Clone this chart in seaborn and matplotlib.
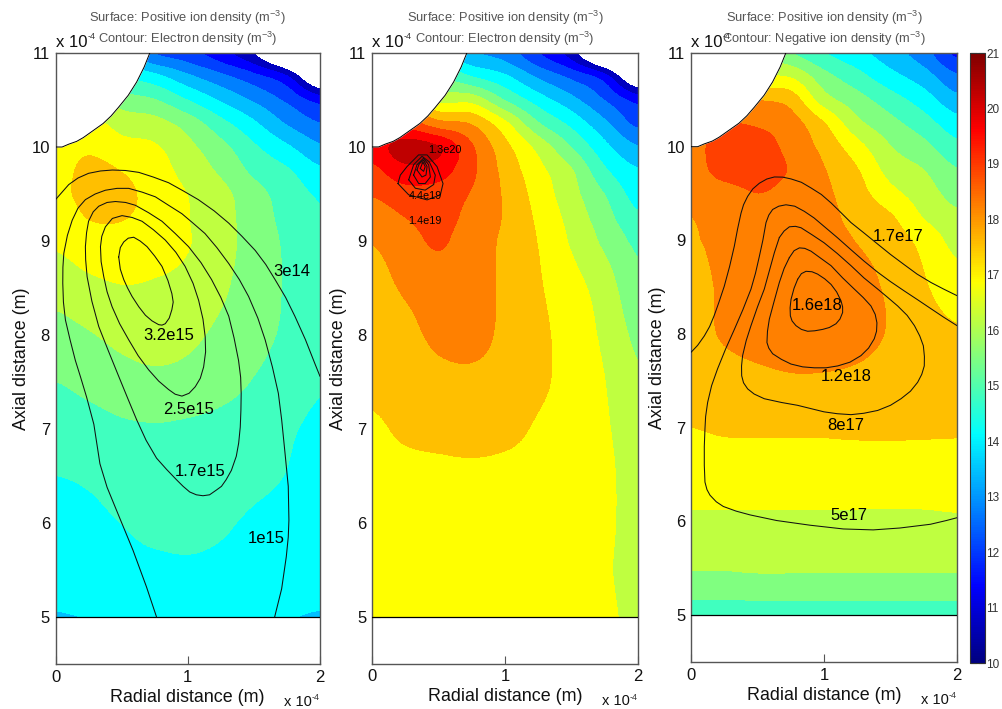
import numpy as np
import seaborn as sns
import matplotlib
matplotlib.use("Agg")
import matplotlib.pyplot as plt
from matplotlib.cm import ScalarMappable
from matplotlib.colors import BoundaryNorm, ListedColormap, Normalize
from matplotlib.patches import Rectangle

# grid of the surface plots, radial and axial distance (x 1e-4 m)
grid_r = [0, 0.25, 0.5, 0.75, 1, 1.25, 1.5, 1.75, 2]
top_z = [11, 10.75, 10.5, 10.25, 10, 9.75, 9.5, 9.25, 9]
low_z = [9.5, 9, 8.5, 8, 7.5, 7, 6.5, 6, 5.5, 5]

# log10 of positive ion density, one row per top_z value, the bands are tighter up there
top_a = [
    [14.0, 13.7, 13.3, 12.4, 12.0, 11.3, 10.34, 8.5, 6.5],
    [15.5, 15.0, 14.5, 14.0, 13.25, 12.6, 11.95, 11.1, 9.0],
    [16.6, 16.3, 15.5, 15.2, 14.47, 13.7, 13.0, 12.27, 11.45],
    [16.9, 16.8, 16.28, 16.1, 15.55, 14.7, 13.9, 13.03, 12.44],
    [16.9, 17.1, 16.75, 16.6, 16.02, 15.36, 14.57, 13.89, 13.2],
    [16.95, 17.4, 17.2, 16.85, 16.27, 15.72, 15.0, 14.55, 13.9],
    [17.05, 17.4, 17.35, 17.0, 16.52, 16.05, 15.4, 14.85, 14.37],
    [16.85, 17.25, 17.25, 17.0, 16.55, 16.1, 15.5, 14.95, 14.55],
    [16.65, 16.95, 17.05, 16.9, 16.58, 16.1, 15.55, 15.05, 14.75],
]
top_b = [
    [14.5, 14.3, 14.0, 13.2, 12.8, 11.8, 10.7, 8.6, 7.0],
    [16.5, 16.0, 15.3, 14.5, 13.92, 13.0, 12.25, 11.35, 9.2],
    [18.0, 17.8, 16.4, 16.3, 15.16, 14.16, 13.33, 12.41, 11.5],
    [19.0, 19.0, 18.2, 17.87, 16.73, 15.25, 14.3, 13.26, 12.25],
    [19.6, 20.3, 20.0, 18.7, 17.45, 16.33, 15.17, 14.0, 13.15],
    [19.1, 19.75, 19.6, 18.75, 17.7, 16.75, 15.92, 14.6, 13.85],
    [18.65, 19.0, 19.0, 18.55, 17.82, 16.95, 16.1, 15.16, 14.2],
    [18.25, 18.6, 18.9, 18.35, 17.85, 17.1, 16.3, 15.45, 14.6],
    [17.95, 18.3, 18.7, 18.2, 17.8, 17.2, 16.45, 15.7, 15.0],
]
top_c = [
    [16.0, 16.0, 15.9, 15.2, 14.5, 14.0, 13.4, 12.7, 11.55],
    [16.3, 16.5, 16.5, 16.43, 15.4, 14.7, 14.0, 13.4, 12.5],
    [18.3, 18.4, 17.9, 17.6, 16.15, 15.43, 14.77, 14.12, 13.3],
    [18.4, 18.6, 18.5, 18.2, 17.25, 16.03, 15.37, 14.77, 14.05],
    [18.4, 18.85, 18.85, 18.4, 17.7, 16.78, 15.87, 15.35, 14.65],
    [18.3, 18.85, 18.85, 18.55, 17.95, 17.27, 16.28, 15.85, 15.2],
    [18.15, 18.35, 18.6, 18.4, 18.05, 17.5, 16.75, 16.18, 15.6],
    [17.91, 18.2, 18.3, 18.3, 18.1, 17.7, 17.3, 16.5, 15.98],
    [17.85, 18.1, 18.25, 18.3, 18.1, 17.88, 17.55, 17.0, 16.3],
]

# same, one row per low_z value
low_a = [
    [17.05, 17.4, 17.35, 17.0, 16.52, 16.05, 15.4, 14.85, 14.37],
    [16.65, 16.95, 17.05, 16.9, 16.58, 16.1, 15.55, 15.05, 14.75],
    [16.1, 16.35, 16.5, 16.45, 16.3, 15.95, 15.5, 15.1, 14.95],
    [15.6, 15.8, 16.05, 16.2, 16.0, 15.7, 15.4, 15.05, 14.9],
    [15.16, 15.35, 15.55, 15.65, 15.6, 15.4, 15.12, 14.8, 14.55],
    [14.8, 14.9, 15.05, 15.1, 15.05, 14.95, 14.8, 14.55, 14.35],
    [14.47, 14.55, 14.7, 14.8, 14.8, 14.72, 14.6, 14.45, 14.25],
    [14.25, 14.35, 14.48, 14.6, 14.62, 14.53, 14.4, 14.3, 14.15],
    [14.2, 14.25, 14.3, 14.35, 14.38, 14.35, 14.3, 14.2, 14.1],
    [13.75, 13.8, 13.85, 14.0, 14.0, 14.0, 13.85, 13.8, 13.75],
]
low_b = [
    [18.65, 19.0, 19.0, 18.55, 17.82, 16.95, 16.1, 15.16, 14.2],
    [17.95, 18.3, 18.7, 18.2, 17.8, 17.2, 16.45, 15.7, 15.0],
    [17.7, 17.98, 18.2, 18.15, 17.8, 17.3, 16.8, 16.2, 15.35],
    [17.55, 17.75, 18.02, 18.05, 17.8, 17.38, 16.95, 16.4, 15.7],
    [17.42, 17.6, 17.75, 17.8, 17.7, 17.35, 17.0, 16.55, 15.95],
    [17.1, 17.35, 17.48, 17.55, 17.42, 17.15, 16.95, 16.62, 16.15],
    [16.95, 17.0, 17.02, 17.05, 17.03, 17.0, 16.9, 16.7, 16.2],
    [16.9, 16.92, 16.95, 16.95, 16.95, 16.9, 16.85, 16.7, 16.2],
    [16.85, 16.88, 16.9, 16.9, 16.9, 16.88, 16.8, 16.65, 16.15],
    [16.8, 16.85, 16.85, 16.85, 16.85, 16.85, 16.8, 16.7, 16.3],
]
low_c = [
    [18.15, 18.35, 18.6, 18.4, 18.05, 17.5, 16.75, 16.18, 15.6],
    [17.85, 18.1, 18.25, 18.3, 18.1, 17.88, 17.55, 17.0, 16.3],
    [17.72, 18.0, 18.2, 18.3, 18.25, 18.1, 17.8, 17.3, 16.85],
    [17.6, 18.0, 18.25, 18.35, 18.3, 18.15, 17.85, 17.5, 17.3],
    [17.42, 17.55, 17.7, 17.82, 17.82, 17.75, 17.6, 17.5, 17.5],
    [17.22, 17.3, 17.32, 17.33, 17.33, 17.35, 17.35, 17.32, 17.3],
    [16.85, 16.85, 16.87, 16.87, 16.87, 16.87, 16.85, 16.87, 16.9],
    [16.42, 16.42, 16.42, 16.42, 16.42, 16.42, 16.42, 16.42, 16.45],
    [15.9, 15.9, 15.95, 15.95, 15.95, 15.95, 15.95, 15.95, 15.95],
    [14.9, 14.9, 14.9, 14.9, 14.9, 14.9, 14.9, 14.9, 14.9],
]

# electrode outline
needle_r = [0, 0.05, 0.1, 0.16, 0.21, 0.26, 0.31, 0.36, 0.42, 0.475, 0.55, 0.613, 0.67, 0.713]
needle_z = [10, 10.0, 10.03, 10.06, 10.1, 10.15, 10.2, 10.25, 10.33, 10.42, 10.55, 10.69, 10.85, 11]

# panel 1 electron density contours, (r, z)
a_3e14 = [(0, 9.44), (0.05, 9.52), (0.1, 9.6), (0.17, 9.67), (0.25, 9.72), (0.34, 9.745), (0.43, 9.755), (0.53, 9.75),
          (0.63, 9.73), (0.74, 9.68), (0.855, 9.62), (0.97, 9.53), (1.08, 9.44), (1.2, 9.32), (1.31, 9.19), (1.41, 9.05),
          (1.51, 8.9), (1.59, 8.75), (1.66, 8.59), (1.74, 8.4), (1.81, 8.2), (1.89, 7.95), (1.96, 7.7), (2.0, 7.56)]
a_1e15 = [(0.764, 5.0), (0.688, 5.32), (0.586, 5.71), (0.46, 6.14), (0.39, 6.38), (0.336, 6.63), (0.29, 7.05), (0.235, 7.34),
          (0.19, 7.55), (0.15, 7.73), (0.11, 7.95), (0.075, 8.16), (0.06, 8.35), (0.055, 8.55), (0.056, 8.72), (0.063, 8.87),
          (0.09, 9.06), (0.126, 9.22), (0.17, 9.35), (0.226, 9.44), (0.3, 9.5), (0.377, 9.54), (0.465, 9.56), (0.553, 9.56),
          (0.655, 9.52), (0.755, 9.47), (0.855, 9.38), (0.956, 9.29), (1.04, 9.19), (1.13, 9.08), (1.22, 8.93), (1.31, 8.76),
          (1.39, 8.59), (1.46, 8.41), (1.53, 8.18), (1.585, 7.95), (1.64, 7.66), (1.685, 7.38), (1.71, 7.1), (1.735, 6.75),
          (1.76, 6.39), (1.765, 6.03), (1.76, 5.85), (1.745, 5.64), (1.71, 5.3), (1.657, 5.0)]
a_17e14 = [(0.613, 7.1), (0.545, 7.33), (0.478, 7.56), (0.4, 7.83), (0.327, 8.09), (0.275, 8.36), (0.239, 8.62), (0.228, 8.8),
           (0.226, 8.94), (0.235, 9.09), (0.25, 9.21), (0.285, 9.31), (0.327, 9.37), (0.39, 9.41), (0.453, 9.42), (0.53, 9.41),
           (0.604, 9.38), (0.705, 9.3), (0.805, 9.21), (0.905, 9.08), (1.006, 8.94), (1.1, 8.77), (1.18, 8.59), (1.25, 8.4),
           (1.31, 8.2), (1.35, 7.97), (1.384, 7.73), (1.4, 7.55), (1.404, 7.38), (1.402, 7.2), (1.397, 7.02), (1.385, 6.85),
           (1.367, 6.71), (1.33, 6.56), (1.29, 6.46), (1.255, 6.39), (1.216, 6.35), (1.165, 6.3), (1.115, 6.29), (1.065, 6.3),
           (1.015, 6.33), (0.965, 6.39), (0.915, 6.46), (0.84, 6.57), (0.764, 6.69), (0.685, 6.88), (0.613, 7.1)]
a_25e14 = [(0.34, 8.94), (0.35, 9.05), (0.377, 9.15), (0.43, 9.24), (0.503, 9.27), (0.58, 9.25), (0.654, 9.21), (0.74, 9.12),
           (0.83, 9.01), (0.91, 8.88), (0.98, 8.73), (1.04, 8.55), (1.082, 8.37), (1.115, 8.17), (1.132, 7.98), (1.135, 7.82),
           (1.12, 7.66), (1.095, 7.54), (1.057, 7.45), (1.01, 7.38), (0.956, 7.35), (0.905, 7.37), (0.855, 7.42), (0.78, 7.51),
           (0.704, 7.63), (0.625, 7.78), (0.553, 7.95), (0.485, 8.12), (0.428, 8.3), (0.39, 8.46), (0.365, 8.62), (0.345, 8.78),
           (0.34, 8.94)]
a_32e14 = [(0.478, 8.83), (0.49, 8.93), (0.516, 8.99), (0.55, 9.03), (0.591, 9.04), (0.64, 9.0), (0.692, 8.94), (0.75, 8.84),
           (0.805, 8.73), (0.85, 8.58), (0.88, 8.44), (0.89, 8.35), (0.88, 8.27), (0.86, 8.18), (0.83, 8.12), (0.805, 8.105),
           (0.78, 8.11), (0.73, 8.15), (0.68, 8.21), (0.63, 8.3), (0.579, 8.41), (0.545, 8.5), (0.516, 8.59), (0.49, 8.7),
           (0.478, 8.83)]

# panel 2 electron density contours, outermost first
b_1 = [(0.195, 9.61), (0.276, 9.49), (0.414, 9.436), (0.514, 9.49), (0.534, 9.61), (0.489, 9.79), (0.414, 9.915),
       (0.35, 9.915), (0.263, 9.79), (0.213, 9.7), (0.195, 9.61)]
b_2 = [(0.276, 9.65), (0.326, 9.56), (0.4, 9.54), (0.464, 9.6), (0.476, 9.7), (0.431, 9.84), (0.376, 9.9), (0.313, 9.81),
       (0.276, 9.65)]
b_3 = [(0.313, 9.7), (0.351, 9.61), (0.4, 9.61), (0.439, 9.68), (0.426, 9.81), (0.388, 9.88), (0.338, 9.81), (0.313, 9.7)]
b_4 = [(0.338, 9.755), (0.376, 9.68), (0.406, 9.7), (0.414, 9.79), (0.388, 9.86), (0.356, 9.825), (0.338, 9.755)]
b_5 = [(0.363, 9.77), (0.388, 9.74), (0.4, 9.79), (0.383, 9.84), (0.363, 9.77)]

# panel 3 negative ion density contours
c_17e16 = [(2, 8.41), (1.9, 8.48), (1.805, 8.55), (1.7, 8.64), (1.604, 8.74), (1.5, 8.85), (1.404, 8.96), (1.3, 9.08),
           (1.203, 9.19), (1.125, 9.3), (1.053, 9.4), (0.98, 9.49), (0.902, 9.56), (0.83, 9.62), (0.752, 9.656), (0.69, 9.675),
           (0.627, 9.677), (0.57, 9.655), (0.514, 9.61), (0.465, 9.55), (0.426, 9.47), (0.395, 9.38), (0.376, 9.29), (0.35, 9.12),
           (0.326, 8.94), (0.29, 8.72), (0.25, 8.51), (0.21, 8.34), (0.175, 8.2), (0.14, 8.08), (0.1, 7.98), (0.05, 7.88), (0, 7.805)]
c_5e17 = [(2, 8.09), (1.9, 8.18), (1.805, 8.27), (1.7, 8.37), (1.604, 8.46), (1.5, 8.56), (1.404, 8.66), (1.3, 8.78),
          (1.203, 8.9), (1.1, 9.03), (1, 9.15), (0.925, 9.24), (0.852, 9.31), (0.78, 9.365), (0.714, 9.38), (0.66, 9.365),
          (0.614, 9.33), (0.585, 9.27), (0.564, 9.19), (0.54, 9.0), (0.514, 8.83), (0.485, 8.65), (0.451, 8.48), (0.39, 8.26),
          (0.326, 8.05), (0.26, 7.84), (0.2, 7.63), (0.155, 7.45), (0.125, 7.27), (0.11, 7.12), (0.105, 6.99), (0.1, 6.8),
          (0.1, 6.6), (0.105, 6.42), (0.12, 6.34), (0.143, 6.28), (0.19, 6.21), (0.243, 6.16), (0.34, 6.11), (0.444, 6.07),
          (0.644, 6.01), (0.895, 5.96), (1.145, 5.92), (1.37, 5.91), (1.57, 5.93), (1.8, 5.97), (1.92, 6.01), (2, 6.04)]
c_8e17 = [(0.664, 9.03), (0.7, 9.1), (0.74, 9.145), (0.785, 9.15), (0.827, 9.135), (0.91, 9.06), (1, 8.975), (1.1, 8.86),
          (1.203, 8.73), (1.3, 8.6), (1.404, 8.48), (1.48, 8.39), (1.554, 8.3), (1.625, 8.2), (1.68, 8.09), (1.72, 7.98),
          (1.747, 7.875), (1.755, 7.76), (1.754, 7.66), (1.735, 7.57), (1.704, 7.485), (1.65, 7.39), (1.579, 7.31), (1.5, 7.24),
          (1.404, 7.185), (1.3, 7.155), (1.203, 7.14), (1.1, 7.15), (1, 7.17), (0.9, 7.205), (0.8, 7.24), (0.68, 7.27),
          (0.551, 7.31), (0.475, 7.36), (0.426, 7.415), (0.395, 7.48), (0.381, 7.555), (0.38, 7.66), (0.388, 7.77), (0.415, 7.93),
          (0.451, 8.09), (0.5, 8.29), (0.551, 8.48), (0.59, 8.68), (0.627, 8.87), (0.664, 9.03)]
c_12e17 = [(0.739, 8.815), (0.775, 8.89), (0.815, 8.92), (0.855, 8.915), (0.902, 8.885), (0.975, 8.81), (1.053, 8.73), (1.14, 8.6),
           (1.228, 8.48), (1.295, 8.39), (1.353, 8.3), (1.385, 8.21), (1.398, 8.12), (1.395, 8.03), (1.378, 7.95), (1.335, 7.85),
           (1.278, 7.77), (1.195, 7.7), (1.103, 7.66), (1.015, 7.64), (0.927, 7.64), (0.84, 7.65), (0.752, 7.68), (0.68, 7.73),
           (0.614, 7.79), (0.585, 7.85), (0.571, 7.91), (0.575, 8.03), (0.589, 8.16), (0.625, 8.35), (0.664, 8.55), (0.7, 8.7),
           (0.739, 8.815)]
c_16e17 = [(0.802, 8.585), (0.83, 8.645), (0.865, 8.67), (0.91, 8.665), (0.952, 8.64), (1.005, 8.59), (1.053, 8.53), (1.095, 8.45),
           (1.128, 8.355), (1.14, 8.29), (1.14, 8.23), (1.12, 8.16), (1.09, 8.11), (1.04, 8.07), (0.99, 8.05), (0.93, 8.035),
           (0.877, 8.03), (0.83, 8.05), (0.789, 8.09), (0.76, 8.14), (0.747, 8.195), (0.745, 8.28), (0.752, 8.37), (0.775, 8.49),
           (0.802, 8.585)]

# contour labels: text, r, z
labels_a = [("3e14", 1.785, 8.68), ("3.2e15", 0.857, 8.0), ("2.5e15", 1.008, 7.21),
            ("1.7e15", 1.09, 6.55), ("1e15", 1.59, 5.83)]
labels_b = [("1.3e20", 0.55, 9.97), ("4.4e19", 0.4, 9.48), ("1.4e19", 0.4, 9.21)]
labels_c = [("1.7e17", 1.556, 9.04), ("1.6e18", 0.947, 8.3), ("1.2e18", 1.17, 7.55),
            ("8e17", 1.16, 7.02), ("5e17", 1.19, 6.06)]

title_a = "Surface: Positive ion density (m$^{-3}$)\nContour: Electron density (m$^{-3}$)"
title_c = "Surface: Positive ion density (m$^{-3}$)\nContour: Negative ion density (m$^{-3}$)"

sns.set_theme(style="white")
plt.rcParams["font.family"] = ["Liberation Sans", "DejaVu Sans"]
plt.rcParams["mathtext.fontset"] = "custom"
plt.rcParams["mathtext.rm"] = "Liberation Sans"
plt.rcParams["mathtext.default"] = "regular"

# sixteenths of the old jet map, band k is centred on 10 + 11 * k / 16
jet_colors = ["#000080", "#0000bf", "#0000ff", "#0040ff", "#0080ff", "#00bfff", "#00ffff", "#40ffbf", "#80ff80",
              "#bfff40", "#ffff00", "#ffbf00", "#ff8000", "#ff4000", "#ff0000", "#bf0000", "#800000"]
band_edges = [10 + 11 * (k - 0.5) / 16 for k in range(1, 17)]
band_cmap = ListedColormap(jet_colors[1:16])
band_cmap.set_under("white")
band_norm = BoundaryNorm(band_edges, 15)
jet = sns.blend_palette(jet_colors, as_cmap=True)

W, H = 1002, 709
fig = plt.figure(figsize=(W / 100, H / 100), dpi=100)


def scale_note(ax, x, y, size, ha, sup_dx, sup_dy):
    # "x 10" with a small -4 beside it
    ax.annotate("x 10", xy=(x, y), xycoords="axes fraction", fontsize=size, ha=ha, va="center",
                color="#111111", annotation_clip=False, zorder=6)
    ax.annotate("-4", xy=(x, y), xycoords="axes fraction", xytext=(sup_dx, sup_dy), textcoords="offset points",
                fontsize=6.5, ha="left", va="center", color="#333333", annotation_clip=False, zorder=6)


def draw_surface(ax, rows, zs, clip_from, clip_to, order):
    dz = abs(zs[1] - zs[0]) / 2
    dr = (grid_r[1] - grid_r[0]) / 2
    im = ax.imshow(rows, extent=[grid_r[0] - dr, grid_r[-1] + dr, zs[-1] - dz, zs[0] + dz], aspect="auto",
                   cmap=band_cmap, norm=band_norm, interpolation="catrom", interpolation_stage="data", zorder=order)
    im.set_clip_path(Rectangle((0, clip_from), 2, clip_to - clip_from, transform=ax.transData))


def draw_panel(box, top, low, lines, labels, title, label_size):
    left, upper, right, bottom = box
    ax = fig.add_axes([left / W, (H - bottom) / H, (right - left) / W, (bottom - upper) / H])
    draw_surface(ax, low, low_z, 5, 9.05, 1)
    draw_surface(ax, top, top_z, 9, 11, 1.1)

    ax.fill_between(needle_r, needle_z, 11, color="white", lw=0, zorder=2)
    ax.plot(needle_r, needle_z, color="black", lw=0.7, zorder=3)
    ax.axhline(5, color="black", lw=0.9, zorder=3)
    for line in lines:
        line_r, line_z = zip(*line)
        sns.lineplot(x=list(line_r), y=list(line_z), sort=False, estimator=None, color="#111111", lw=0.75, ax=ax, zorder=4)
    for text, r, z in labels:
        ax.text(r, z, text, fontsize=label_size, color="black", ha="center", va="center", zorder=5)

    ax.set_xlim(0, 2)
    ax.set_ylim(4.5, 11)
    ax.set_xticks([0, 1, 2])
    ax.set_yticks([5, 6, 7, 8, 9, 10, 11])
    ax.tick_params(direction="in", length=6, width=0.8, color="#555555", labelsize=12, pad=4,
                   labelcolor="#111111", bottom=True, left=True)
    ax.set_axisbelow(True)
    ax.set_xlabel("Radial distance (m)", fontsize=12.9, labelpad=3, color="#111111")
    ax.set_ylabel("Axial distance (m)", fontsize=12.9, labelpad=1, color="#111111")
    ax.set_title(title, fontsize=9.3, color="#555555", pad=7, linespacing=1.2)
    for spine in ax.spines.values():
        spine.set_color("#555555")
        spine.set_linewidth(1)
    scale_note(ax, 0, 1.018, 12, "left", 23, 4)
    scale_note(ax, 0.97, -0.062, 10.5, "right", 0, 3)
    return ax


draw_panel((55.5, 53, 320, 664), top_a, low_a, [a_3e14, a_1e15, a_17e14, a_25e14, a_32e14], labels_a, title_a, 12)
draw_panel((372, 53, 638, 663.5), top_b, low_b, [b_1, b_2, b_3, b_4, b_5], labels_b, title_a, 7.8)
draw_panel((691, 53, 957, 662), top_c, low_c, [c_17e16, c_5e17, c_8e17, c_12e17, c_16e17], labels_c, title_c, 12)

# colorbar
cax = fig.add_axes([970 / W, (H - 663) / H, 15 / W, 610 / H])
cbar = fig.colorbar(ScalarMappable(norm=Normalize(10, 21), cmap=jet), cax=cax, ticks=np.arange(10, 22))
cbar.ax.tick_params(left=True, right=True, direction="in", length=5, width=0.8, color="#333333",
                    labelsize=8.5, pad=1, labelcolor="#333333")
cbar.outline.set_edgecolor("#333333")
cbar.outline.set_linewidth(0.8)

fig.savefig("out.png", dpi=100)
